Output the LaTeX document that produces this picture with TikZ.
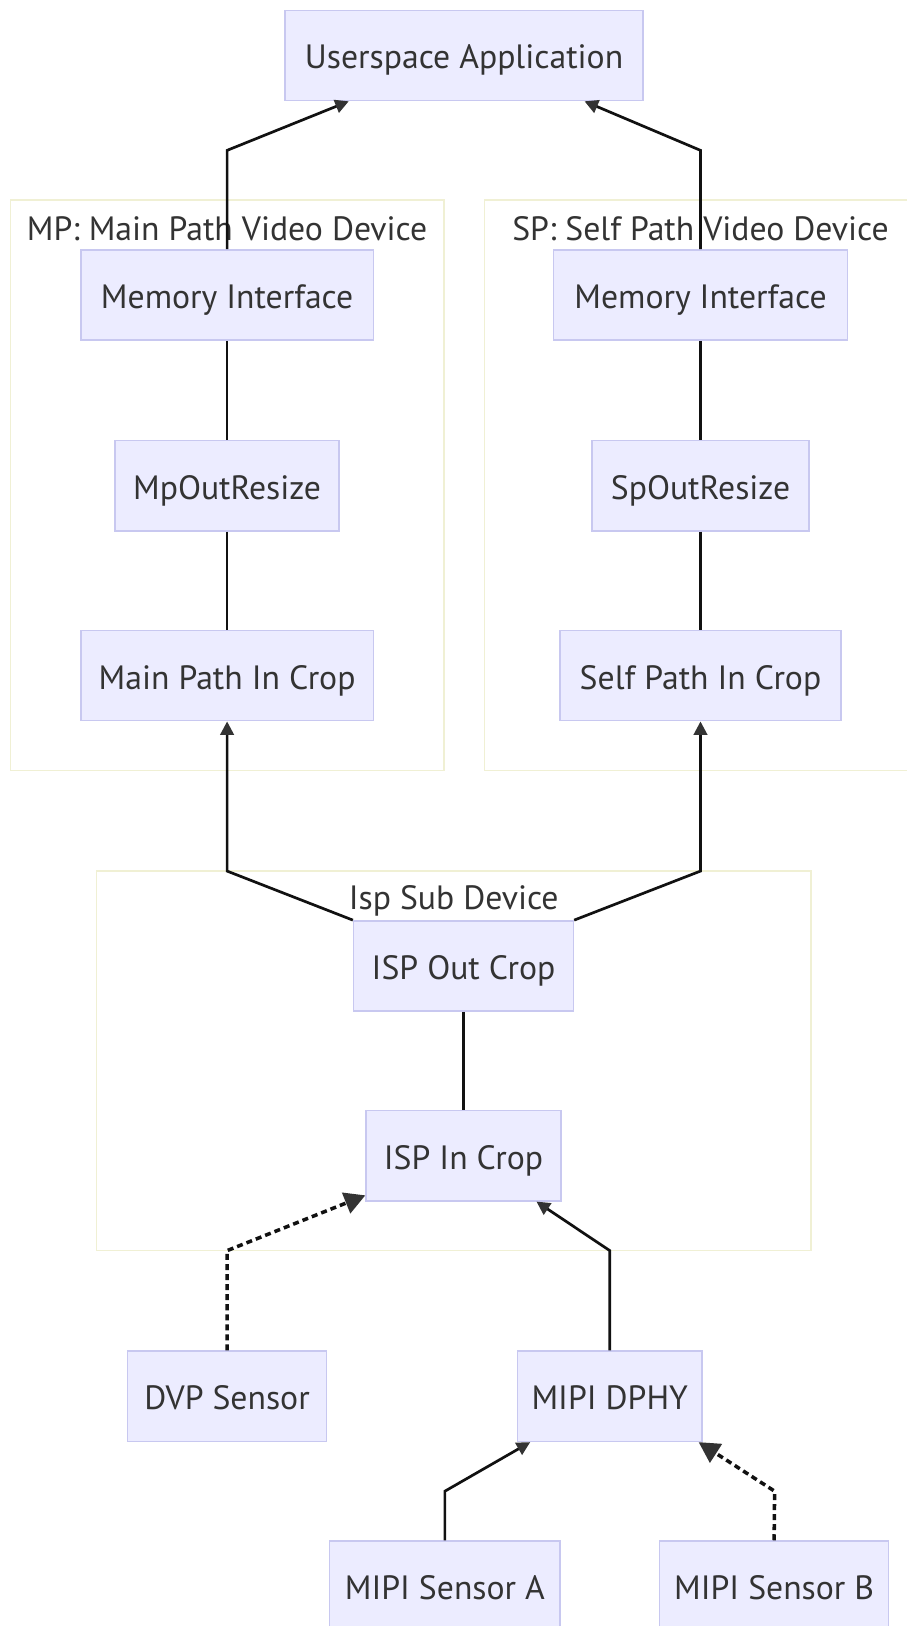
\documentclass[tikz,border=0pt]{standalone}
\usepackage{fontspec}
\setmainfont{PT Sans}
\usetikzlibrary{arrows.meta}
\definecolor{nodefill}{HTML}{ECECFF}
\definecolor{nodeline}{HTML}{C8C8F0}
\definecolor{clusterline}{HTML}{F0F0D4}
\definecolor{txt}{HTML}{333333}
\definecolor{tipc}{HTML}{333333}
\definecolor{edgec}{HTML}{111111}
\begin{document}
\begin{tikzpicture}[x=1pt,y=-1pt,
  box/.style={draw=nodeline, fill=nodefill, line width=1.4pt, minimum height=87pt,
    inner sep=0pt, text=txt, text height=30pt, text depth=4pt,
    font=\fontsize{32.5}{38}\selectfont},
  cluster/.style={draw=clusterline, line width=1.4pt},
  clusterlabel/.style={inner sep=0pt, text=txt, text height=30pt, text depth=4pt,
    font=\fontsize{32.5}{38}\selectfont},
  plain/.style={line width=2.6pt, draw=edgec},
  flow/.style={line width=2.6pt, draw=edgec, line join=miter,
    -{Triangle[length=13pt,width=13pt,color=tipc]}},
  dotflow/.style={line width=3.4pt, draw=edgec, dash pattern=on 5.8pt off 3.9pt,
    -{Triangle[length=20pt,width=21pt,color=tipc]}}
]
\useasboundingbox (0,0) rectangle (874,1568);
\fill[white] (0,0) rectangle (874,1568);

% clusters
\draw[cluster] (10,193) rectangle (428,743);
\draw[cluster] (467,193) rectangle (884,743);
\draw[cluster] (93,840) rectangle (782,1206);
\node[clusterlabel] (mptitle) at (219,218.5) {MP: Main Path Video Device};
\node[clusterlabel] (sptitle) at (675.5,218.5) {SP: Self Path Video Device};
\node[clusterlabel] (isptitle) at (437.5,864.5) {Isp Sub Device};

% nodes
\node[box, minimum width=345pt] (user) at (447.5,53.5) {Userspace Application};
\node[box, minimum width=282pt] (mpmem) at (219,284.5) {Memory Interface};
\node[box, minimum width=216pt] (mpres) at (219,468.5) {MpOutResize};
\node[box, minimum width=282pt] (mpcrop) at (219,651.5) {Main Path In Crop};
\node[box, minimum width=283pt] (spmem) at (675.5,284.5) {Memory Interface};
\node[box, minimum width=209pt] (spres) at (675.5,468.5) {SpOutResize};
\node[box, minimum width=271pt] (spcrop) at (675.5,651.5) {Self Path In Crop};
\node[box, minimum width=212pt] (ispout) at (447,931.5) {ISP Out Crop};
\node[box, minimum width=188pt] (ispin) at (447,1114.5) {ISP In Crop};
\node[box, minimum width=192pt] (dvp) at (219,1346.5) {DVP Sensor};
\node[box, minimum width=178pt] (dphy) at (588,1346.5) {MIPI DPHY};
\node[box, minimum width=222pt] (mipia) at (429,1529.5) {MIPI Sensor A};
\node[box, minimum width=221pt] (mipib) at (746.5,1529.5) {MIPI Sensor B};

% bend points
\coordinate (b1) at (219,145);
\coordinate (b2) at (675.5,145);
\coordinate (b3) at (219,840);
\coordinate (b4) at (675.5,840);
\coordinate (b5) at (219,1206);
\coordinate (b6) at (588,1206);
\coordinate (b7) at (429,1438);
\coordinate (b8) at (747,1438);

% edges
\draw[flow] (mpmem.north) -- (b1) -- ([xshift=62pt]user.south west);
\draw[flow] (spmem.north) -- (b2) -- ([xshift=-57pt]user.south east);
\draw[plain] (mpmem.south) -- (mpres.north);
\draw[plain] (mpres.south) -- (mpcrop.north);
\draw[plain] (spmem.south) -- (spres.north);
\draw[plain] (spres.south) -- (spcrop.north);
\draw[flow] (ispout.north west) -- (b3) -- (mpcrop.south);
\draw[flow] (ispout.north east) -- (b4) -- (spcrop.south);
\draw[plain] (ispout.south) -- (ispin.north);
\draw[dotflow] (dvp.north) -- (b5) -- ([yshift=6pt]ispin.south west);
\draw[flow] (dphy.north) -- (b6) -- ([xshift=165pt]ispin.south west);
\draw[flow] (mipia.north) -- (b7) -- ([xshift=13pt]dphy.south west);
\draw[dotflow] (mipib.north) -- (b8) -- ([xshift=-4pt]dphy.south east);
\end{tikzpicture}
\end{document}
